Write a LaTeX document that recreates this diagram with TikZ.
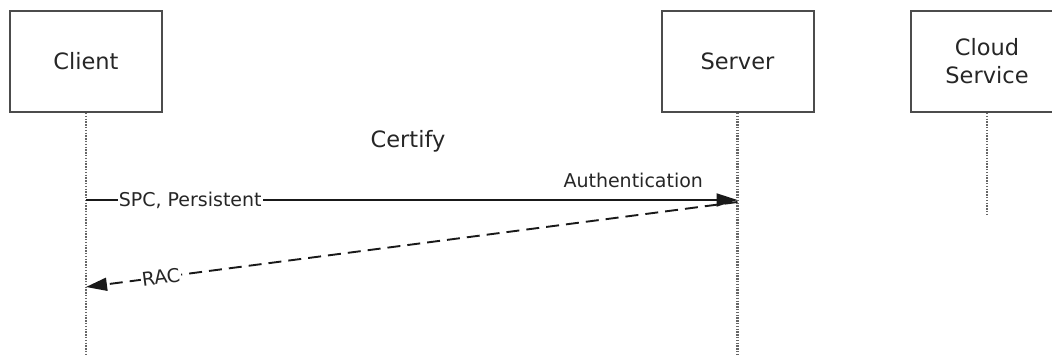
\documentclass[tikz,border=0pt]{standalone}
\usepackage{fontspec}
\setmainfont{DejaVu Sans}
\usetikzlibrary{
  arrows.meta,
  positioning,
}
\tikzstyle{party} = [
  draw=black!70,
  line width=2pt,
  minimum width=152pt,
  minimum height=101pt,
  align=center,
  font=\fontsize{22.5}{28}\selectfont,
  text=black!85,
]
\tikzstyle{lifeline} = [
  draw=black!60,
  line width=2.4pt,
  dash pattern=on 1.5pt off 1.3pt,
]
\tikzstyle{msg} = [
  -{Triangle[length=21pt,width=13pt]},
  line width=1.9pt,
  black!90,
  font=\fontsize{19}{23}\selectfont,
  text=black!85,
]
\tikzstyle{msglabel} = [
  fill=white,
  inner sep=1pt,
]

\begin{document}
\begin{tikzpicture}[x=1pt, y=-1pt]

        \clip (0,0) rectangle (1052,355);

        % Participants
        \node [party] (client) at (86, 61.5) {Client};
        \node [party] (server) at (737.5, 61.5) {Server};
        \node [party] (cloud) at (987, 61.5) {Cloud\\Service};

        % Lifelines
        \coordinate (client end) at (86, 355);
        \coordinate (server end) at (737.5, 355);
        \coordinate (cloud end) at (987, 215);

        \draw [lifeline] (client.south) -- (client end);
        \draw [lifeline] (server.south) -- (server end);
        \draw [lifeline] (cloud.south) -- (cloud end);

        \node [font=\fontsize{22.5}{28}\selectfont, text=black!85] (certify) at (408, 141) {Certify};

        % Messages
        \coordinate (spc start) at (86, 200);
        \coordinate (spc end) at (737.5, 200);
        \coordinate (rac start) at (737.5, 202);
        \coordinate (rac end) at (86, 287);

        \draw [msg] (spc start) -- (spc end)
              node [pos=0.16, msglabel] {SPC, Persistent}
              node [pos=0.84, above, yshift=8pt] {Authentication};

        \draw [msg, dash pattern=on 13pt off 7pt] (rac start) -- (rac end)
              node [pos=0.885, msglabel, sloped] {RAC};
      \end{tikzpicture}
\end{document}
